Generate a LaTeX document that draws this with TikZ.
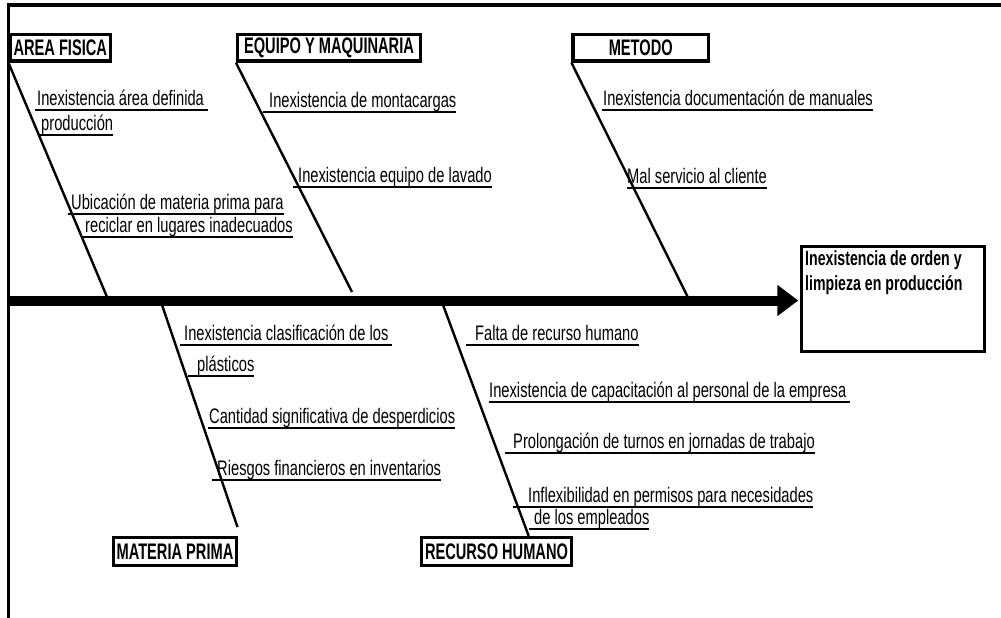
\documentclass[tikz,border=0pt]{standalone}
\usepackage{fontspec}
\setmainfont{Liberation Sans}
\newfontfamily\lblfont{Liberation Sans}[FakeStretch=0.70]
\newfontfamily\hdrfont{Liberation Sans}[FakeStretch=0.65]
\newfontfamily\efffont{Liberation Sans}[FakeStretch=0.69]
\usetikzlibrary{arrows.meta,calc}
% underlined text: the rule spans the whole box, leading/trailing spaces included
\newsavebox\ulsave
\newcommand\ulbox[1]{\sbox\ulsave{#1}\rlap{\rule[-5.3pt]{\wd\ulsave}{1.8pt}}\usebox\ulsave}
\tikzset{
  hdr/.style={draw, line width=3.2pt, inner sep=0pt, font=\hdrfont\bfseries\fontsize{22.5}{25}\selectfont},
  lbl/.style={anchor=base west, inner sep=0pt, font=\lblfont\fontsize{21}{24}\selectfont},
  efftxt/.style={anchor=base west, inner sep=0pt, font=\efffont\bfseries\fontsize{20.5}{24}\selectfont},
  bone/.style={line width=2.4pt},
  spine/.style={line width=10pt, -{Triangle[length=21pt,width=30pt]}},
}
\begin{document}
\begin{tikzpicture}[x=1pt,y=-1pt]
\useasboundingbox (0,0) rectangle (1001,618);

% frame
\draw[line width=4pt] (6.65,5.3) -- (1001,5.3);
\draw[line width=3.3pt] (8.3,3.3) -- (8.3,618);

% category boxes
\node[hdr, minimum width=100.5pt, minimum height=26.5pt] (area) at (60.25,47.75) {AREA FISICA};
\node[hdr, minimum width=183pt, minimum height=26.5pt] (equipo) at (329,47.75) {EQUIPO Y MAQUINARIA};
\node[hdr, minimum width=135.5pt, minimum height=26.5pt] (metodo) at (640.75,47.75) {METODO};
\node[hdr, minimum width=123pt, minimum height=28pt] (materia) at (175,551.5) {MATERIA PRIMA};
\node[hdr, minimum width=150pt, minimum height=28pt] (recurso) at (496.5,551.5) {RECURSO HUMANO};

% effect
\node[draw, line width=3.5pt, minimum width=183pt, minimum height=105pt, inner sep=0pt] (eff) at (893,299) {};
\node[efftxt] (eff1) at (805,265) {Inexistencia de orden y};
\node[efftxt] (eff2) at (805,290) {limpieza en producción};

% spine
\coordinate (spL) at (8.3,300.5);
\draw[spine] (spL) -- ([xshift=-1.5pt]spL -| eff.west);

% bones
\coordinate (s1) at (108.5,300.5);
\coordinate (s2) at (352,292);
\coordinate (s3) at (689.5,300.5);
\coordinate (s4) at (160.5,300.5);
\coordinate (m4) at (237.5,527);
\coordinate (s5) at (441.4,300.5);
\draw[bone] (area.south west) -- (s1);
\draw[bone] (equipo.south west) -- (s2);
\draw[bone] (metodo.south west) -- (s3);
\draw[bone] (s4) -- (m4);
\draw[bone] (s5) -- ($(recurso.north west)!0.71!(recurso.north east)$);

% causes: area fisica
\node[lbl] (a1) at (35,105.6) {\ulbox{\hspace*{2pt}Inexistencia área definida\hspace*{4pt}}};
\node[lbl] (a2) at (39,130.6) {\ulbox{\hspace*{2pt}producción}};
\node[lbl] (a3) at (68,209.6) {\ulbox{\hspace*{3pt}Ubicación de materia prima para}};
\node[lbl] (a4) at (82,232.6) {\ulbox{\hspace*{3pt}reciclar en lugares inadecuados}};

% causes: equipo y maquinaria
\node[lbl] (e1) at (263,107.6) {\ulbox{\hspace*{6pt}Inexistencia de montacargas}};
\node[lbl] (e2) at (293,182.6) {\ulbox{\hspace*{5pt}Inexistencia equipo de lavado}};

% causes: metodo
\node[lbl] (t1) at (602,105.4) {\ulbox{\hspace*{1pt}Inexistencia documentación de manuales}};
\node[lbl] (t2) at (627,183.6) {\ulbox{Mal servicio al cliente}};

% causes: materia prima
\node[lbl] (p1) at (180,340.6) {\ulbox{\hspace*{4pt}Inexistencia clasificación de los\hspace*{4pt}}};
\node[lbl] (p2) at (188,371.6) {\ulbox{\hspace*{9pt}plásticos}};
\node[lbl] (p3) at (208,423.6) {\ulbox{\hspace*{1pt}Cantidad significativa de desperdicios}};
\node[lbl] (p4) at (212,475.6) {\ulbox{\hspace*{5pt}Riesgos financieros en inventarios}};

% causes: recurso humano
\node[lbl] (r1) at (466,340.6) {\ulbox{\hspace*{9pt}Falta de recurso humano}};
\node[lbl] (r2) at (489,397.6) {\ulbox{Inexistencia de capacitación al personal de la empresa\hspace*{4pt}}};
\node[lbl] (r3) at (505,448.6) {\ulbox{\hspace*{8pt}Prolongación de turnos en jornadas de trabajo}};
\node[lbl] (r4) at (513,502.6) {\ulbox{\hspace*{15pt}Inflexibilidad en permisos para necesidades}};
\node[lbl] (r5) at (529,524.6) {\ulbox{\hspace*{5pt}de los empleados}};
\end{tikzpicture}
\end{document}
